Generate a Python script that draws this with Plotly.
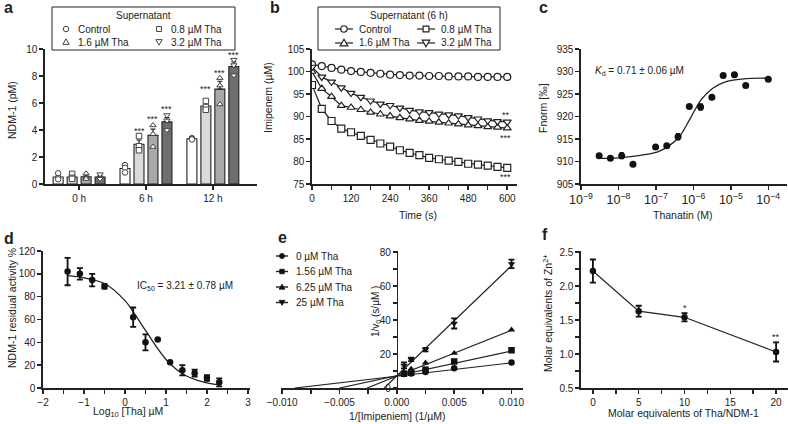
import plotly.graph_objects as go

W, H = 788, 424
INK = "#222222"
FONT = "Liberation Sans"

# ---------------- panel a : NDM-1 in supernatant ----------------
a_groups = ["0 h", "6 h", "12 h"]
a_names = ["Control", "0.8 µM Tha", "1.6 µM Tha", "3.2 µM Tha"]
a_ctrl = [0.52, 1.15, 3.35]
a_tha08 = [0.52, 2.95, 5.78]
a_tha16 = [0.53, 3.60, 7.03]
a_tha32 = [0.52, 4.60, 8.70]
a_ctrl_sem = [0.14, 0.16, 0.05]
a_tha08_sem = [0.13, 0.31, 0.20]
a_tha16_sem = [0.12, 0.46, 0.58]
a_tha32_sem = [0.12, 0.32, 0.35]
a_ctrl_reps = [[0.80, 0.45, 0.35], [1.40, 1.20, 0.85], [3.40, 3.35, 3.30]]
a_tha08_reps = [[0.75, 0.45, 0.38], [3.55, 2.80, 2.50], [6.15, 5.70, 5.50]]
a_tha16_reps = [[0.78, 0.45, 0.38], [4.35, 3.70, 2.75], [7.85, 7.30, 5.90]]
a_tha32_reps = [[0.72, 0.45, 0.38], [5.10, 4.70, 4.00], [9.20, 8.80, 8.05]]
a_stars_6h = [4.05, 4.94, 5.68]
a_stars_12h = [7.17, 8.39, 9.70]

# ---------------- panel b : imipenem hydrolysis ----------------
b_time = [0, 30, 60, 90, 120, 150, 180, 210, 240, 270, 300, 330, 360, 390, 420,
          450, 480, 510, 540, 570, 600]
b_names = ["Control", "0.8 µM Tha", "1.6 µM Tha", "3.2 µM Tha"]
b_ctrl = [101.6, 101.2, 100.8, 100.4, 100.1, 99.9, 99.7, 99.5, 99.3, 99.2, 99.1,
          99.1, 99.0, 99.0, 98.9, 98.9, 98.9, 98.8, 98.8, 98.8, 98.8]
b_tha08 = [97.0, 91.7, 89.0, 87.3, 86.5, 85.7, 84.8, 84.0, 83.3, 82.5, 81.9,
           81.4, 80.8, 80.5, 80.2, 79.9, 79.5, 79.3, 79.1, 78.8, 78.6]
b_tha16 = [100.0, 96.2, 94.4, 92.4, 92.0, 91.5, 90.9, 90.5, 90.1, 89.7, 89.4,
           89.1, 88.9, 88.7, 88.5, 88.3, 88.1, 87.9, 87.7, 87.6, 87.4]
b_tha32 = [101.0, 98.8, 97.7, 96.4, 95.2, 94.3, 93.5, 92.8, 92.5, 91.9, 91.4,
           91.1, 90.9, 90.6, 90.4, 90.2, 89.8, 89.5, 89.1, 88.9, 88.8]
b_star_labels = ["**", "***", "***"]
b_star_y = [90.8, 85.6, 76.9]

# ---------------- panel c : MST binding ----------------
c_conc = [3.05e-9, 6.1e-9, 1.22e-8, 2.44e-8, 9.8e-8, 1.95e-7, 3.9e-7, 7.8e-7,
          1.56e-6, 3.125e-6, 6.25e-6, 1.25e-5, 2.5e-5, 1e-4]
c_fnorm = [911.3, 910.7, 911.3, 909.4, 913.2, 913.5, 915.5, 922.2, 922.1,
           924.3, 929.1, 929.3, 926.9, 928.3]
c_err = [0, 0, 0.6, 0, 0, 0, 0.6, 0, 0.6, 0, 0, 0, 0, 0]
c_fit_x = [3.4e-9, 1e-8, 2.7e-8, 1.07e-7, 2.1e-7, 4.2e-7, 8.3e-7, 1.6e-6,
           3.3e-6, 6.6e-6, 2.6e-5, 1e-4]
c_fit_y = [910.7, 910.8, 911.2, 912.1, 913.3, 915.5, 919.6, 923.7, 926.3,
           927.6, 928.4, 928.5]

# ---------------- panel d : IC50 ----------------
d_logc = [-1.4, -1.1, -0.8, -0.5, 0.2, 0.5, 0.8, 1.1, 1.4, 1.7, 2.0, 2.3]
d_act = [102.0, 100.0, 94.5, 89.0, 62.0, 40.0, 42.5, 22.5, 15.5, 13.0, 8.8, 5.0]
d_err = [12.0, 5.0, 5.5, 2.0, 8.5, 7.0, 0.0, 0.0, 4.5, 3.0, 2.5, 3.5]
d_fit_x = [-1.4, -1.0, -0.5, 0.0, 0.25, 0.5, 0.75, 1.0, 1.25, 1.5, 1.75, 2.0, 2.3]
d_fit_y = [98.5, 96.5, 91.5, 76.5, 64.0, 50.5, 37.0, 25.0, 16.5, 10.5, 7.0, 4.5, 2.8]

# ---------------- panel e : Lineweaver-Burk ----------------
e_names = ["0 µM Tha", "1.56 µM Tha", "6.25 µM Tha", "25 µM Tha"]
e_x = [0.000625, 0.00125, 0.0025, 0.005, 0.01]
e_tha0 = [8.2, 8.6, 9.4, 11.6, 15.0]
e_tha156 = [8.4, 9.0, 10.8, 15.6, 22.2]
e_tha625 = [9.5, 11.2, 14.8, 20.5, 34.2]
e_tha25 = [13.3, 16.8, 22.6, 38.0, 73.0]
e_tha25_err = [1.8, 1.0, 1.0, 3.0, 2.5]
e_fit_xint = [-0.0089, -0.0050, -0.0026, -0.0011]
e_fit_xend = [0.01, 0.01, 0.01, 0.01]
e_fit_yend = [14.8, 21.8, 34.0, 72.0]

# ---------------- panel f : Zn2+ content ----------------
f_ratio = [0, 5, 10, 20]
f_zn = [2.22, 1.63, 1.54, 1.03]
f_err = [0.17, 0.08, 0.06, 0.14]
f_stars = ["", "", "*", "**"]

# ================= figure =================
fig = go.Figure()


def dx(l, r):
    return [l / W, r / W]


def dy(t, b):
    return [1 - b / H, 1 - t / H]


annotations = []
shapes = []

# --- a ---
a_means = [a_ctrl, a_tha08, a_tha16, a_tha32]
a_sems = [a_ctrl_sem, a_tha08_sem, a_tha16_sem, a_tha32_sem]
a_reps = [a_ctrl_reps, a_tha08_reps, a_tha16_reps, a_tha32_reps]
a_colors = ["#ffffff", "#dadada", "#a9a9a9", "#6e6e6e"]
SYMS = ["circle", "square", "triangle-up", "triangle-down"]
slot = 14 / 67
bwid = 10 / 67
for i in range(4):
    off = (i - 1.5) * slot
    xs = [g + off for g in range(len(a_groups))]
    fig.add_bar(x=xs, y=a_means[i], width=bwid, xaxis="x", yaxis="y", name=a_names[i],
                marker=dict(color=a_colors[i], line=dict(color=INK, width=1.1)),
                error_y=dict(type="data", array=a_sems[i], arrayminus=[0] * 3,
                             symmetric=False, color=INK, thickness=1.2, width=2.5))
    rx = [x for x, r in zip(xs, a_reps[i]) for _ in r]
    ry = [v for r in a_reps[i] for v in r]
    fig.add_scatter(x=rx, y=ry, mode="markers", xaxis="x", yaxis="y", name=a_names[i],
                    marker=dict(symbol=SYMS[i], size=5.5, color="white",
                                line=dict(color="#444444", width=1)))
for gi, stars in ((1, a_stars_6h), (2, a_stars_12h)):
    for j, yv in enumerate(stars):
        annotations.append(dict(x=gi + (j - 0.5) * slot, y=yv, xref="x", yref="y",
                                text="***", showarrow=False, yshift=-2,
                                font=dict(size=9, color=INK)))

# --- b ---
b_series = [b_ctrl, b_tha08, b_tha16, b_tha32]
for i in range(4):
    fig.add_scatter(x=b_time, y=b_series[i], mode="lines+markers", xaxis="x2", yaxis="y2",
                    name=b_names[i], line=dict(color=INK, width=1.2),
                    marker=dict(symbol=SYMS[i], size=7, color="white",
                                line=dict(color=INK, width=1.2)))
for lab, yv in zip(b_star_labels, b_star_y):
    annotations.append(dict(x=b_time[-1] - 5, y=yv, xref="x2", yref="y2", text=lab,
                            showarrow=False, yshift=-2, font=dict(size=9, color=INK)))

# --- c ---
fig.add_scatter(x=c_fit_x, y=c_fit_y, mode="lines", line=dict(color=INK, width=1.3, shape="spline"),
                xaxis="x3", yaxis="y3")
fig.add_scatter(x=c_conc, y=c_fnorm, mode="markers", xaxis="x3", yaxis="y3",
                marker=dict(color="#111111", size=7),
                error_y=dict(type="data", array=c_err, color="#111111", thickness=2, width=2))

# --- d ---
fig.add_scatter(x=d_fit_x, y=d_fit_y, mode="lines", line=dict(color=INK, width=1.3, shape="spline"),
                xaxis="x4", yaxis="y4")
fig.add_scatter(x=d_logc, y=d_act, mode="markers", xaxis="x4", yaxis="y4",
                marker=dict(color="#111111", size=6.5),
                error_y=dict(type="data", array=d_err, color="#111111", thickness=1.8, width=3))

# --- e ---
e_series = [e_tha0, e_tha156, e_tha625, e_tha25]
e_errs = [None, None, None, e_tha25_err]
for i in range(4):
    fig.add_scatter(x=[e_fit_xint[i], e_fit_xend[i]], y=[0, e_fit_yend[i]], mode="lines",
                    line=dict(color=INK, width=1.2), xaxis="x5", yaxis="y5", name=e_names[i])
    fig.add_scatter(x=e_x, y=e_series[i], mode="markers", xaxis="x5", yaxis="y5", name=e_names[i],
                    marker=dict(symbol=SYMS[i], size=6.5, color="#111111"),
                    error_y=(dict(type="data", array=e_errs[i], color="#111111", thickness=1.8, width=3)
                             if e_errs[i] else None))

# --- f ---
fig.add_scatter(x=f_ratio, y=f_zn, mode="lines+markers", xaxis="x6", yaxis="y6",
                line=dict(color=INK, width=1.2), marker=dict(color="#111111", size=6.5),
                error_y=dict(type="data", array=f_err, color="#111111", thickness=1.8, width=3))
for xv, yv, e, s in zip(f_ratio, f_zn, f_err, f_stars):
    if s:
        annotations.append(dict(x=xv, y=yv + e, xref="x6", yref="y6", text=s, showarrow=False,
                                yanchor="bottom", yshift=-2, font=dict(size=9, color=INK)))


# ================= legends (drawn as layout decorations) =================
def fx(x):
    return x / W


def fy(y):
    return 1 - y / H


def key_line(x0, x1, y, lw=1.2):
    shapes.append(dict(type="line", xref="paper", yref="paper", x0=fx(x0), x1=fx(x1),
                       y0=fy(y), y1=fy(y), line=dict(color=INK, width=lw), layer="above"))


def key_symbol(sym, cx, cy, s, fill, edge, lw):
    h = s / 2.0
    base = dict(xref="paper", yref="paper", line=dict(color=edge, width=lw),
                fillcolor=fill, layer="above")
    if sym == "circle":
        shapes.append(dict(type="circle", x0=fx(cx - h), x1=fx(cx + h), y0=fy(cy + h), y1=fy(cy - h), **base))
    elif sym == "square":
        h *= 0.9
        shapes.append(dict(type="rect", x0=fx(cx - h), x1=fx(cx + h), y0=fy(cy + h), y1=fy(cy - h), **base))
    else:
        t = 1.15 * h
        if sym == "triangle-up":
            pts = [(cx, cy - t), (cx + t, cy + 0.75 * t), (cx - t, cy + 0.75 * t)]
        else:
            pts = [(cx, cy + t), (cx + t, cy - 0.75 * t), (cx - t, cy - 0.75 * t)]
        path = "M " + " L ".join("%.5f,%.5f" % (fx(px), fy(py)) for px, py in pts) + " Z"
        shapes.append(dict(type="path", path=path, **base))


def key_text(text, x, y, **kw):
    d = dict(text=text, x=fx(x), y=fy(y), xref="paper", yref="paper", showarrow=False,
             xanchor="left", yanchor="middle", font=dict(size=10, color=INK, family=FONT))
    d.update(kw)
    annotations.append(d)


def box(x0, y0, x1, y1):
    shapes.append(dict(type="rect", xref="paper", yref="paper", x0=fx(x0), x1=fx(x1),
                       y0=fy(y1), y1=fy(y0), line=dict(color=INK, width=1),
                       fillcolor="rgba(0,0,0,0)", layer="above"))


# legend a
box(52, 7, 235, 50)
key_text("Supernatant", 143.5, 16, xanchor="center")
a_key_pos = [(66, 29), (159, 29), (66, 42), (159, 42)]
for i, (kx, ky) in enumerate(a_key_pos):
    key_symbol(SYMS[i], kx, ky, 5.5, "white", "#444444", 1)
    key_text(a_names[i], kx + 10, ky)

# legend b
box(318, 7, 500, 50)
key_text("Supernatant (6 h)", 409, 16, xanchor="center")
b_key_pos = [(344, 29), (426, 29), (344, 43), (426, 43)]
for i, (kx, ky) in enumerate(b_key_pos):
    key_line(kx - 9, kx + 9, ky)
    key_symbol(SYMS[i], kx, ky, 6.5, "white", INK, 1.2)
    key_text(b_names[i], kx + 13, ky)

# legend e
e_key_pos = [(282, 256), (282, 271.5), (282, 287), (282, 302.5)]
for i, (kx, ky) in enumerate(e_key_pos):
    key_line(kx - 6, kx + 6, ky, lw=1.4)
    key_symbol(SYMS[i], kx, ky, 5, "#111111", "#111111", 0.8)
    key_text(e_names[i], kx + 12, ky)


# ================= axes =================
def ax(**kw):
    d = dict(showline=True, linecolor=INK, linewidth=1.6, ticks="outside", ticklen=4,
             tickwidth=1.5, tickcolor=INK, showgrid=False, zeroline=False,
             tickfont=dict(size=10, color=INK, family=FONT), fixedrange=True)
    d.update(kw)
    return d


def minor(dt):
    return dict(ticks="outside", ticklen=4, tickwidth=1.5, tickcolor=INK, dtick=dt, showgrid=False)


top = (49, 184)
bot = (251, 388)
layout = dict(
    width=W, height=H, margin=dict(l=0, r=0, t=0, b=0, autoexpand=False),
    paper_bgcolor="white", plot_bgcolor="white", barmode="overlay",
    font=dict(family=FONT, size=10, color=INK),
    showlegend=False, hovermode=False,
    xaxis=ax(domain=dx(45, 257), range=[-0.51, 2.66], tickvals=[0, 1, 2], ticktext=a_groups, anchor="y"),
    yaxis=ax(domain=dy(*top), range=[0, 10], dtick=2, anchor="x"),
    xaxis2=ax(domain=dx(312, 517), range=[0, 630], dtick=120, minor=minor(60), anchor="y2"),
    yaxis2=ax(domain=dy(*top), range=[75, 105], dtick=5, anchor="x2"),
    xaxis3=ax(domain=dx(581, 787), type="log", range=[-9, -3.5], dtick=1,
              exponentformat="power", anchor="y3"),
    yaxis3=ax(domain=dy(*top), range=[905, 935], dtick=5, anchor="x3"),
    xaxis4=ax(domain=dx(43, 250), range=[-2, 3.05], dtick=1, minor=minor(0.5), anchor="y4"),
    yaxis4=ax(domain=dy(*bot), range=[0, 120], dtick=20, anchor="x4"),
    xaxis5=ax(domain=dx(281, 523), range=[-0.0101, 0.011], tickvals=[-0.01, -0.005, 0, 0.005, 0.01],
              tickformat=".3f", minor=minor(0.0025), anchor="y5"),
    yaxis5=ax(domain=dy(*bot), range=[0, 80.6], dtick=20, minor=minor(10), anchor="free",
              position=396.8 / W),
    xaxis6=ax(domain=dx(581, 788), range=[-1.3, 21.3], dtick=5, minor=minor(2.5), anchor="y6"),
    yaxis6=ax(domain=dy(*bot), range=[0.5, 2.515], dtick=0.5, tickformat=".1f", minor=minor(0.25),
              anchor="x6"),
)


def label(text, x, y, angle=0, size=10.5, **kw):
    d = dict(text=text, x=x / W, y=1 - y / H, xref="paper", yref="paper", showarrow=False,
             textangle=angle, font=dict(size=size, color=INK, family=FONT), xanchor="center",
             yanchor="middle")
    d.update(kw)
    annotations.append(d)


# panel letters
for t, x, y in (("a", 2, 8), ("b", 268, 8), ("c", 537, 8), ("d", 2, 238), ("e", 276, 237), ("f", 540, 235)):
    label("<b>%s</b>" % t, x, y, size=16, xanchor="left")

# axis titles
label("NDM-1 (pM)", 12, 110, angle=-90)
label("Imipenem (µM)", 268, 98, angle=-90)
label("Time (s)", 418, 215)
label("Fnorm [‰]", 543, 108, angle=-90)
label("Thanatin (M)", 683, 215)
label("NDM-1 residual activity %", 12, 308, angle=-90)
label("Log<sub>10</sub> [Tha] µM", 128, 412)
label("1/v<sub>0</sub> (s/µM )", 376, 312, angle=-90, size=10)
label("1/[Imipeniem] (1/µM)", 397, 416)
label("Molar equivalents of Zn<sup>2+</sup>", 547, 313, angle=-90)
label("Molar equivalents of Tha/NDM-1", 683, 413)
label("<i>K</i><sub>d</sub> = 0.71 ± 0.06 µM", 593, 71, xanchor="left", size=10)
label("IC<sub>50</sub> = 3.21 ± 0.78 µM", 135, 286, xanchor="left", size=10)

layout["annotations"] = annotations
layout["shapes"] = shapes
fig.update_layout(**layout)
fig.write_html("out.html", config={"displayModeBar": False, "staticPlot": True},
               post_script="document.body.style.margin='0px';document.body.style.overflow='hidden';")
